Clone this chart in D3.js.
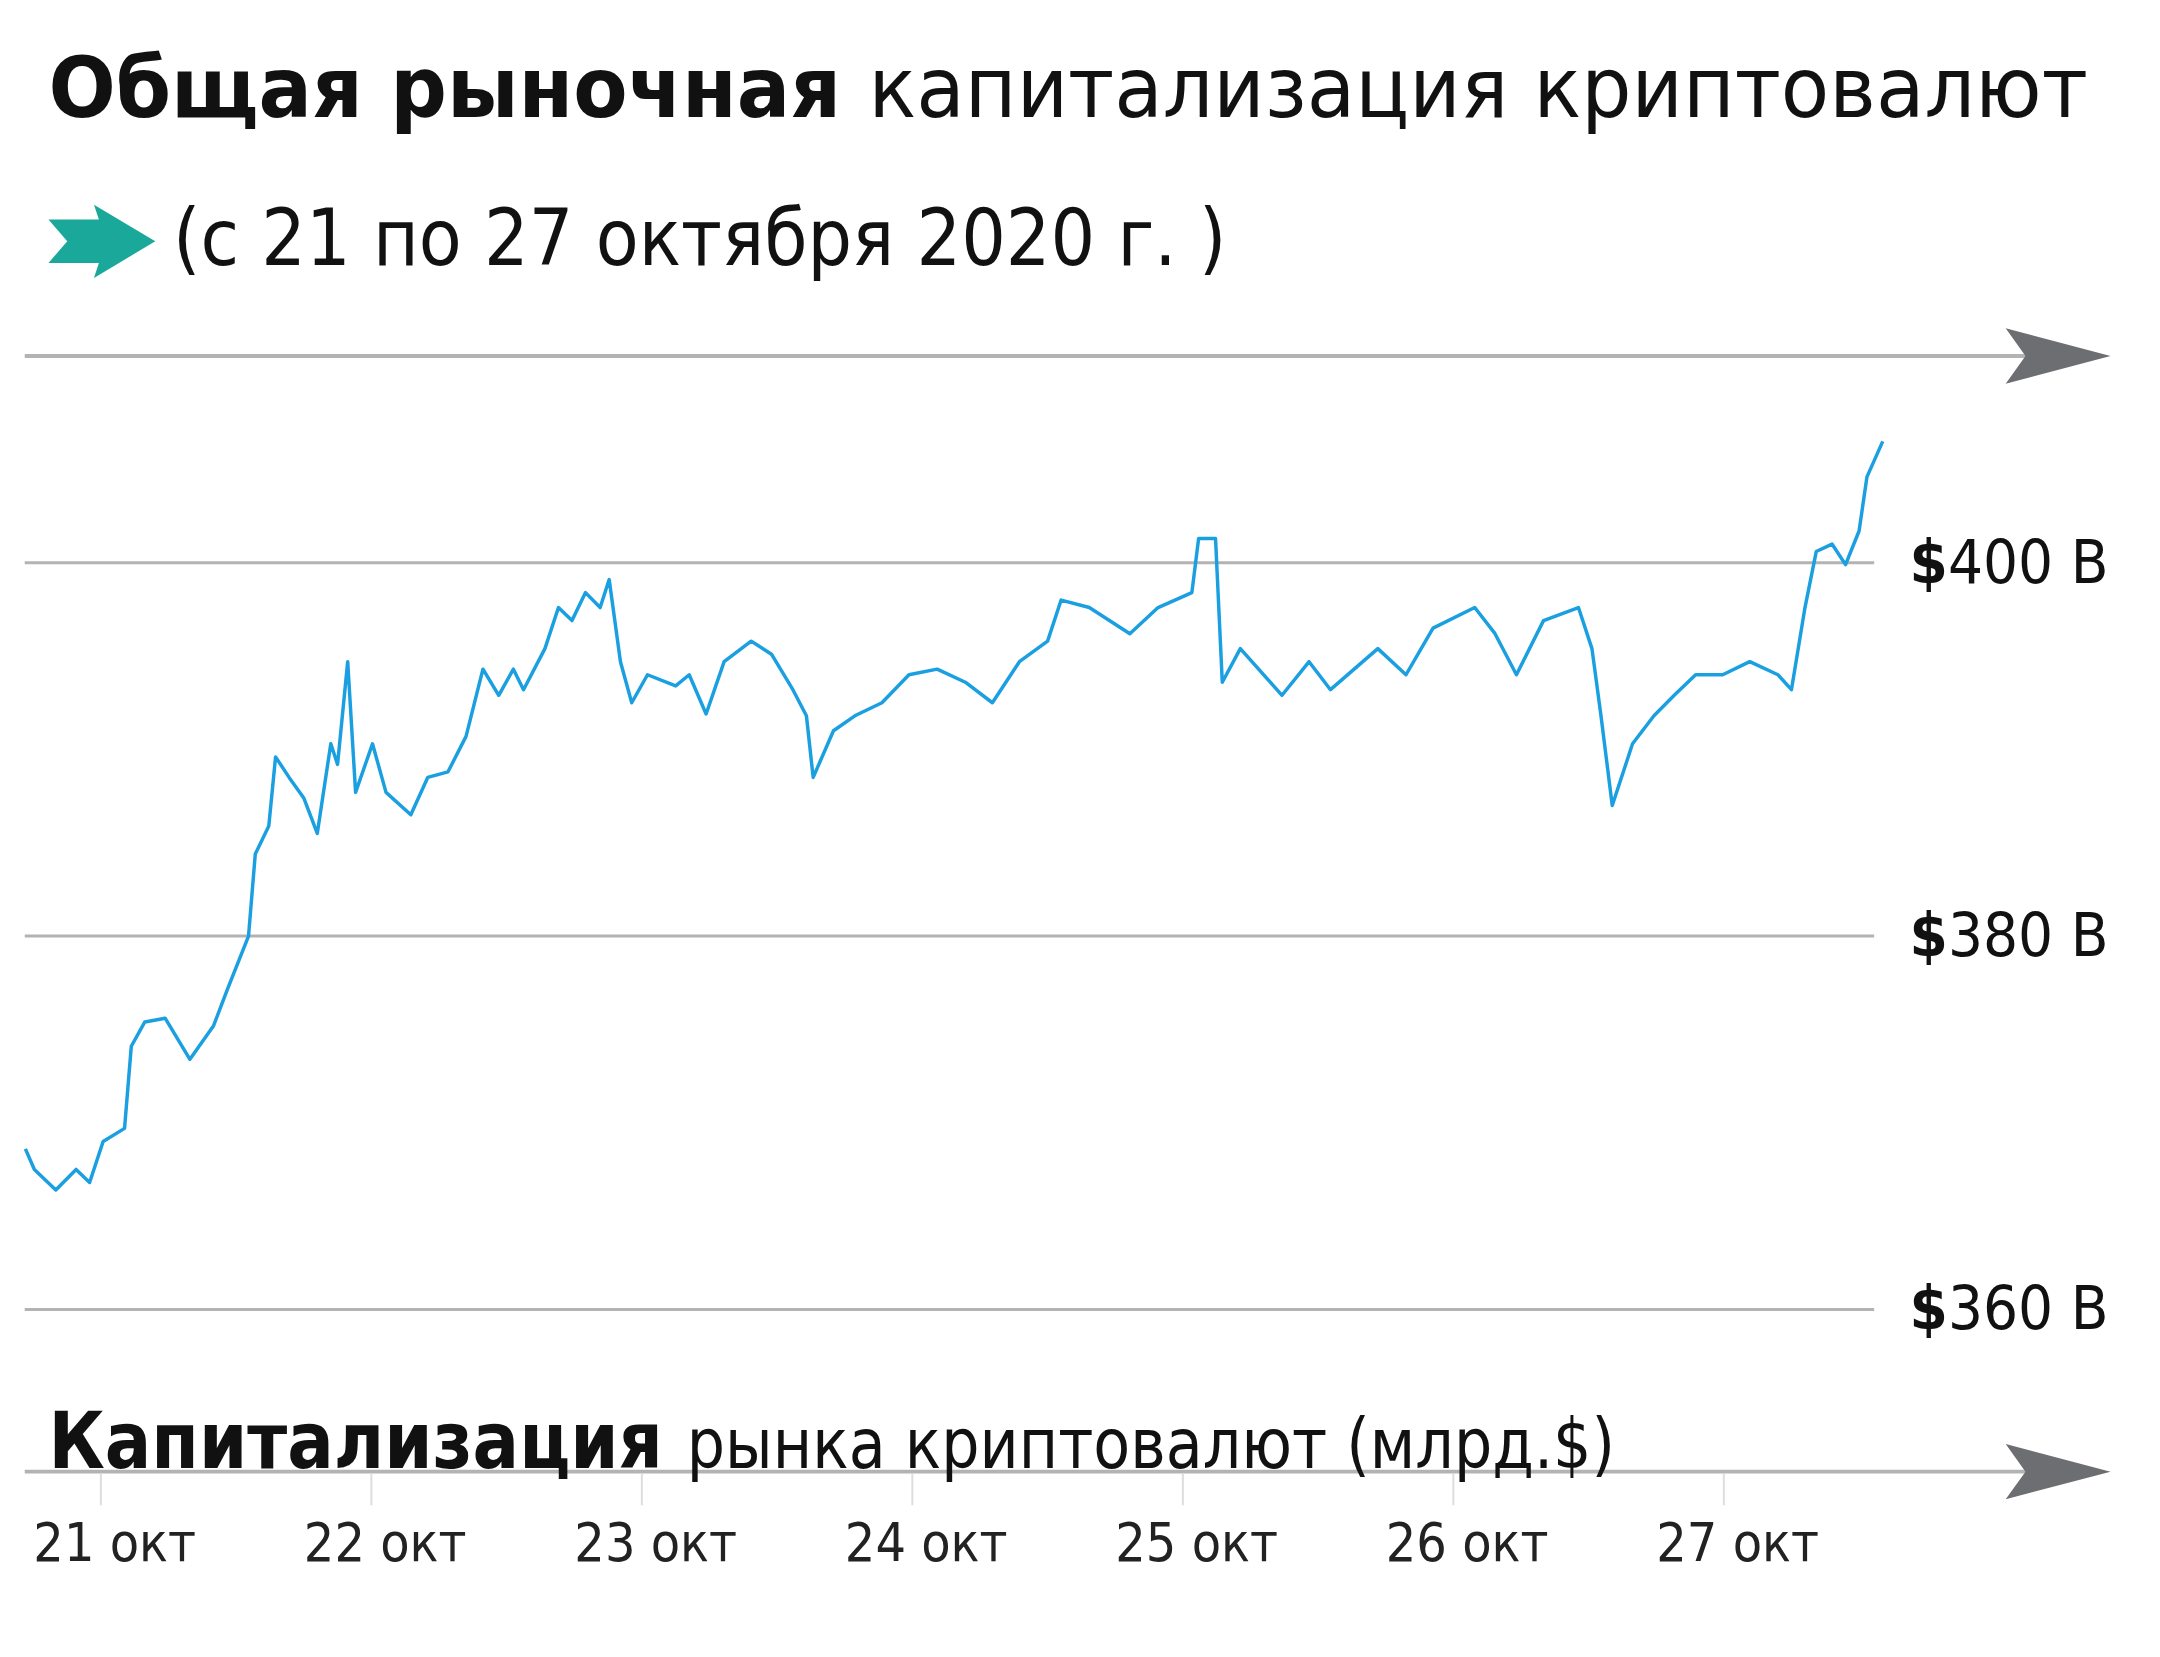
<!DOCTYPE html>
<html><head><meta charset="utf-8">
<script src="https://cdn.jsdelivr.net/npm/d3@7"></script>
<style>body{margin:0;background:#fff}</style></head>
<body><svg id="c" width="2160" height="1657"></svg>
<script>
// hours since 21 Oct 2020 00:00
const hours = [-6.7,-5.9,-4.0,-2.2,-1.0,0.2,2.1,2.7,3.9,5.7,7.9,10.0,11.2,13.1,13.7,14.9,15.5,16.7,18.0,19.2,20.4,21.0,21.9,22.6,24.1,25.3,27.5,29.0,30.8,32.4,33.9,35.3,36.6,37.5,39.4,40.6,41.8,43.0,44.3,45.1,46.1,47.1,48.5,51.0,52.2,53.7,55.3,57.7,59.5,61.4,62.6,63.2,65.0,66.9,69.3,71.7,74.2,76.7,79.1,81.5,84.0,85.2,87.7,91.3,93.8,96.8,97.4,98.9,99.5,101.1,104.8,107.2,109.1,113.3,115.8,118.2,121.9,123.7,125.6,128.0,131.1,132.3,133.1,134.1,135.9,137.8,139.6,141.5,143.9,146.3,148.8,150.0,151.2,152.2,153.6,154.8,156.0,156.7,158.1];
const values = [368.6,367.5,366.4,367.5,366.8,369.0,369.7,374.1,375.4,375.6,373.4,375.2,377.1,380.0,384.4,385.9,389.6,388.5,387.4,385.5,390.3,389.2,394.7,387.7,390.3,387.7,386.5,388.5,388.8,390.7,394.3,392.9,394.3,393.2,395.4,397.6,396.9,398.4,397.6,399.1,394.7,392.5,394.0,393.4,394.0,391.9,394.7,395.8,395.1,393.2,391.8,388.5,391.0,391.8,392.5,394.0,394.3,393.6,392.5,394.7,395.8,398.0,397.6,396.2,397.6,398.4,401.3,401.3,393.6,395.4,392.9,394.7,393.2,395.4,394.0,396.5,397.6,396.2,394.0,396.9,397.6,395.4,391.8,387.0,390.3,391.8,392.9,394.0,394.0,394.7,394.0,393.2,397.6,400.6,401.0,399.9,401.7,404.6,406.5];
const dayLabels = ["21 окт","22 окт","23 окт","24 окт","25 окт","26 окт","27 окт"];
const yTicks = [360,380,400];

const svg = d3.select("#c").append("g").attr("transform","scale(0.989)");
const F = "'DejaVu Sans Condensed','Liberation Sans Narrow','Roboto',sans-serif";
const x = d3.scaleLinear().domain([0,144]).range([102,1743]);
const y = d3.scaleLinear().domain([360,400]).range([1324,569]);
const grey = "#b3b3b3", head = "#6d6e71";

// title
const t = svg.append("text").attr("x",49).attr("y",118).attr("font-family",F).attr("font-size",84)
  .attr("fill","#111").attr("textLength",2062).attr("lengthAdjust","spacingAndGlyphs");
t.append("tspan").attr("font-weight","bold").text("Общая рыночная ");
t.append("tspan").text("капитализация криптовалют");
// subtitle arrow
svg.append("path").attr("d","M49,222 L100,222 L95,207 L157,244 L95,281 L100,266 L49,266 L68,244 Z").attr("fill","#1aa89a");
svg.append("text").attr("x",175).attr("y",268).attr("font-family",F).attr("font-size",80).attr("fill","#111")
  .attr("textLength",1065).attr("lengthAdjust","spacingAndGlyphs").text("(с 21 по 27 октября 2020 г. )");

// top & bottom arrows
[360,1488].forEach(yy=>{
  svg.append("line").attr("x1",25).attr("x2",2060).attr("y1",yy).attr("y2",yy).attr("stroke",grey).attr("stroke-width",4);
  svg.append("path").attr("d",`M2028,${yy-28} L2134,${yy} L2028,${yy+28} L2048,${yy} Z`).attr("fill",head);
});

// gridlines
yTicks.forEach(v=>{
  svg.append("line").attr("x1",25).attr("x2",1895).attr("y1",y(v)).attr("y2",y(v)).attr("stroke",grey).attr("stroke-width",3);
  const tx = svg.append("text").attr("x",2132).attr("y",y(v)+20).attr("text-anchor","end").attr("font-family",F)
    .attr("font-size",62).attr("fill","#111");
  tx.append("tspan").attr("font-weight","bold").text("$");
  tx.append("tspan").text(v+" B");
});

// x ticks
dayLabels.forEach((d,i)=>{
  const xx = x(i*24);
  svg.append("line").attr("x1",xx).attr("x2",xx).attr("y1",1490).attr("y2",1522).attr("stroke","#ddd").attr("stroke-width",2);
  svg.append("text").attr("x",xx+14).attr("y",1578).attr("text-anchor","middle").attr("font-family",F)
    .attr("font-size",54).attr("fill","#222").text(d);
});

// axis title
const at = svg.append("text").attr("x",49).attr("y",1484).attr("font-family",F).attr("font-size",80).attr("fill","#111")
  .attr("textLength",1584).attr("lengthAdjust","spacingAndGlyphs");
at.append("tspan").attr("font-weight","bold").text("Капитализация ");
at.append("tspan").attr("font-size",70).text("рынка криптовалют (млрд.$)");

// line
const data = hours.map((h,i)=>[h,values[i]]);
svg.append("path").datum(data).attr("fill","none").attr("stroke","#1a9fe0").attr("stroke-width",3.5)
  .attr("stroke-linejoin","round").attr("d",d3.line().x(d=>x(d[0])).y(d=>y(d[1])));
</script></body></html>
